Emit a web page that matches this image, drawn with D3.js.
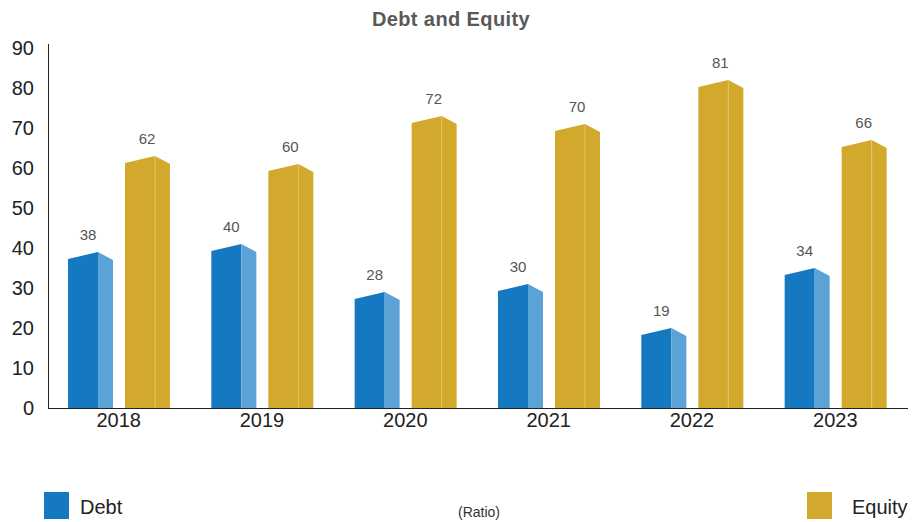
<!DOCTYPE html>
<html>
<head>
<meta charset="utf-8">
<script src="https://cdn.jsdelivr.net/npm/d3@7"></script>
<style>
  body { margin: 0; background: #fff; }
  text { font-family: "Liberation Sans", Arial, sans-serif; }
</style>
</head>
<body>
<script>
// chart data
var years = ["2018", "2019", "2020", "2021", "2022", "2023"];
var debt = [38, 40, 28, 30, 19, 34];
var equity = [62, 60, 72, 70, 81, 66];
var yTicks = [0, 10, 20, 30, 40, 50, 60, 70, 80, 90];

var width = 918, height = 522;
var plotLeft = 48, plotRight = 908, plotTop = 48, plotBottom = 408;

var svg = d3.select("body").append("svg")
    .attr("width", width)
    .attr("height", height);

var x = d3.scaleBand().domain(years).range([plotLeft, plotRight]);
var y = d3.scaleLinear().domain([0, 90]).range([plotBottom, plotTop]);

// title
svg.append("text")
    .attr("x", 451).attr("y", 26)
    .attr("text-anchor", "middle")
    .style("font-size", "20px").style("font-weight", "bold")
    .style("letter-spacing", "0.4px")
    .attr("fill", "#595959")
    .text("Debt and Equity");

// y tick labels
svg.selectAll(".ytick").data(yTicks).enter().append("text")
    .attr("class", "ytick")
    .attr("x", 34).attr("y", function(d){ return y(d) + 7; })
    .attr("text-anchor", "end")
    .style("font-size", "20px").attr("fill", "#222")
    .text(function(d){ return d; });

// draws one 3d-ish bar: front face, side face and pointed top
function bar(g, x0, v, frontCol, sideCol, line){
    var fw = 30, sw = 15;
    var yv = y(v);
    g.append("path")
        .attr("d", "M" + x0 + "," + plotBottom + "V" + (yv + 3) + "L" + (x0 + fw) + "," + (yv - 4) +
            "V" + plotBottom + "Z")
        .attr("fill", frontCol);
    g.append("path")
        .attr("d", "M" + (x0 + fw) + "," + plotBottom + "V" + (yv - 4) + "L" + (x0 + fw + sw) + "," + (yv + 4) +
            "V" + plotBottom + "Z")
        .attr("fill", sideCol);
    if (line) {
        g.append("line")
            .attr("x1", x0 + fw).attr("x2", x0 + fw)
            .attr("y1", yv - 4).attr("y2", plotBottom)
            .attr("stroke", line).attr("stroke-width", 1);
    }
}

var groups = svg.selectAll(".yr").data(years).enter().append("g").attr("class", "yr");

groups.each(function(d, i){
    var g = d3.select(this);
    var bx = x(d);
    bar(g, bx + 20, debt[i], "#1479c1", "#5ba3d6", null);
    bar(g, bx + 77, equity[i], "#d2a92d", "#d2a92d", "#e3c56a");

    g.append("text")
        .attr("x", bx + 40).attr("y", y(debt[i]) - 16)
        .attr("text-anchor", "middle")
        .style("font-size", "15px").attr("fill", "#555")
        .text(debt[i]);
    g.append("text")
        .attr("x", bx + 99).attr("y", y(equity[i]) - 16)
        .attr("text-anchor", "middle")
        .style("font-size", "15px").attr("fill", "#555")
        .text(equity[i]);
});

// axes lines
svg.append("line")
    .attr("x1", plotLeft + 0.5).attr("x2", plotLeft + 0.5)
    .attr("y1", 44).attr("y2", plotBottom)
    .attr("stroke", "#222");
svg.append("line")
    .attr("x1", plotLeft).attr("x2", plotRight)
    .attr("y1", plotBottom + 0.5).attr("y2", plotBottom + 0.5)
    .attr("stroke", "#222");

// x labels
svg.selectAll(".xlab").data(years).enter().append("text")
    .attr("class", "xlab")
    .attr("x", function(d){ return x(d) + x.bandwidth() / 2 - 1; })
    .attr("y", 427)
    .attr("text-anchor", "middle")
    .style("font-size", "20px").attr("fill", "#222")
    .text(function(d){ return d; });

// legend
svg.append("rect").attr("x", 44).attr("y", 492).attr("width", 25).attr("height", 27).attr("fill", "#1479c1");
svg.append("text").attr("x", 80).attr("y", 514).style("font-size", "20px").attr("fill", "#222").text("Debt");
svg.append("rect").attr("x", 807).attr("y", 492).attr("width", 25).attr("height", 27).attr("fill", "#d2a92d");
svg.append("text").attr("x", 852).attr("y", 514).style("font-size", "20px").attr("fill", "#222").text("Equity");
svg.append("text").attr("x", 479).attr("y", 517).attr("text-anchor", "middle")
    .style("font-size", "14px").attr("fill", "#333").text("(Ratio)");
</script>
</body>
</html>
